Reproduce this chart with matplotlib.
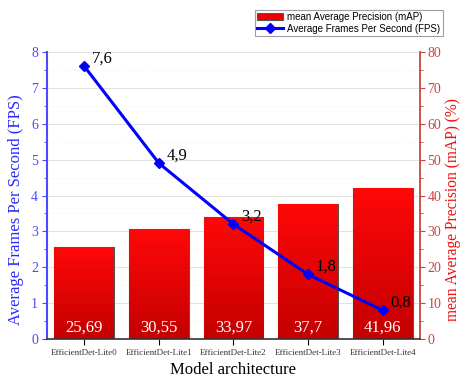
import matplotlib
matplotlib.use("Agg")
import matplotlib.pyplot as plt
import numpy as np
from matplotlib.ticker import MultipleLocator
from matplotlib.colors import LinearSegmentedColormap

models = ["EfficientDet-Lite0", "EfficientDet-Lite1", "EfficientDet-Lite2",
          "EfficientDet-Lite3", "EfficientDet-Lite4"]
fps = [7.6, 4.9, 3.2, 1.8, 0.8]
map_vals = [25.69, 30.55, 33.97, 37.7, 41.96]
fps_labels = ["7,6", "4,9", "3,2", "1,8", "0,8"]
map_labels = ["25,69", "30,55", "33,97", "37,7", "41,96"]

serif = ["Liberation Serif", "DejaVu Serif"]
sans = ["Liberation Sans", "DejaVu Sans"]

fig = plt.figure(figsize=(4.61, 3.79), dpi=100)
ax = fig.add_axes([0.102, 0.1055, 0.809, 0.7573])
ax2 = ax.twinx()

x = np.arange(len(models))

ax2.set_zorder(1)
ax.set_zorder(2)
ax.patch.set_visible(False)

bars = ax2.bar(x, map_vals, width=0.8, color="#ee0000", edgecolor="#555555",
               linewidth=0.8, zorder=2, label="mean Average Precision (mAP)")
grad = np.linspace(0, 1, 100).reshape(-1, 1)
cmap = LinearSegmentedColormap.from_list("r", ["#c40000", "#ff0808"])
for b in bars:
    bx, by = b.get_x(), b.get_y()
    w, h = b.get_width(), b.get_height()
    im = ax2.imshow(grad, extent=[bx, bx + w, by, by + h], origin="lower",
                    cmap=cmap, aspect="auto", zorder=2.5)
    im.set_clip_path(b)
for xi, lab in zip(x, map_labels):
    ax2.text(xi, 1.0, lab, ha="center", va="bottom", color="white",
             fontsize=12, family=serif, zorder=4)

ax2.set_ylim(0, 80)
ax2.yaxis.set_major_locator(MultipleLocator(10))
ax2.yaxis.set_minor_locator(MultipleLocator(5))
ax2.set_ylabel("mean Average Precision (mAP) (%)", color="#ee1111",
               fontsize=11.2, family=serif)
ax2.yaxis.set_label_coords(1.066, 0.45)

line, = ax.plot(x, fps, color="blue", linewidth=2.2, marker="D", markersize=5,
                zorder=5, label="Average Frames Per Second (FPS)")
for xi, yi, lab in zip(x, fps, fps_labels):
    ax.text(xi + 0.1, yi + 0.0, lab, ha="left", va="bottom", fontsize=12,
            family=serif, color="black", zorder=6)

ax.set_xlim(-0.5, 4.5)
ax.set_ylim(0, 8)
ax.yaxis.set_major_locator(MultipleLocator(1))
ax.yaxis.set_minor_locator(MultipleLocator(0.5))
ax.set_xticks(x)
ax.set_xticklabels(models, fontsize=6.5, family=serif, color="#333333")
ax.set_ylabel("Average Frames Per Second (FPS)", color="#2a2aff",
              fontsize=12, family=serif)
ax.yaxis.set_label_coords(-0.062, 0.45)
ax.set_xlabel("Model architecture", fontsize=12, family=serif, labelpad=4)

ax2.set_axisbelow(True)
ax2.grid(True, which="major", axis="y", color="#dddddd", linewidth=0.6, zorder=0)
ax2.grid(True, which="minor", axis="y", color="#eeeeee", linewidth=0.5,
         linestyle=":", zorder=0)
ax2.xaxis.grid(True, which="major", color="#dddddd", linewidth=0.6, zorder=0)
ax2.set_xticks(x)

for lab in ax.get_yticklabels():
    lab.set_family(serif)
ax.tick_params(axis="y", which="both", colors="#4a4aff", labelsize=10,
               direction="out", pad=3)
ax.tick_params(axis="y", which="minor", length=2.5)
ax.tick_params(axis="x", length=4, direction="out", pad=3)
ax2.tick_params(axis="y", which="both", colors="#cc4444", labelsize=10,
                direction="out", pad=2)
ax2.tick_params(axis="y", which="minor", length=2.5)
for lab in ax2.get_yticklabels():
    lab.set_family(serif)

ax.spines["left"].set_color("#4a4aff")
ax.spines["left"].set_linewidth(1.5)
ax2.spines["right"].set_color("#cc4444")
ax2.spines["right"].set_linewidth(1.3)
ax2.spines["left"].set_visible(False)
ax.spines["right"].set_visible(False)
ax.spines["top"].set_visible(False)
ax2.spines["top"].set_visible(False)
ax.spines["bottom"].set_linewidth(1.2)
ax.spines["bottom"].set_color("#333333")
ax2.spines["bottom"].set_visible(False)

leg = fig.legend([bars, line], [bars.get_label(), line.get_label()],
                 loc="upper right", bbox_to_anchor=(0.961, 0.974),
                 prop={"family": sans, "size": 7}, frameon=True,
                 fancybox=False, edgecolor="#888888", handlelength=2.6,
                 handletextpad=0.5, borderpad=0.25, labelspacing=0.15,
                 borderaxespad=0)
leg.get_frame().set_linewidth(0.8)

fig.savefig("out.png", dpi=100)
